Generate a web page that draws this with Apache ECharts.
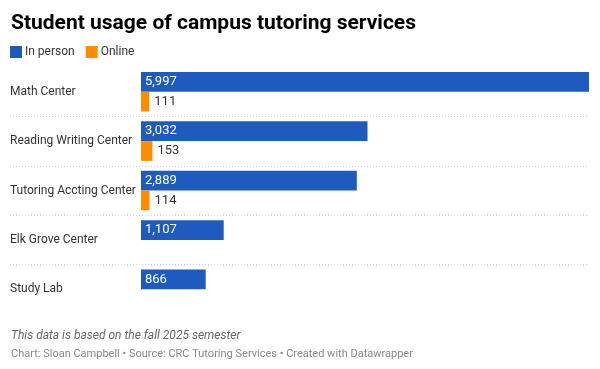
<!DOCTYPE html>
<html>
<head>
<meta charset="utf-8">
<style>html,body{margin:0;padding:0;background:#fff;}#c{width:600px;height:369px;}</style>
<script src="https://cdn.jsdelivr.net/npm/echarts@6/dist/echarts.min.js"></script>
</head>
<body>
<div id="c"></div>
<script>
var categories = ['Math Center', 'Reading Writing Center', 'Tutoring Accting Center', 'Elk Grove Center', 'Study Lab'];
var inPerson = [5997, 3032, 2889, 1107, 866];
var online = [111, 153, 114, null, null];
var seriesNames = ['In person', 'Online'];

var chart = echarts.init(document.getElementById('c'));
var F = 'Roboto, "Noto Sans", sans-serif';
chart.setOption({
  animation: false,
  textStyle: { fontFamily: F },
  title: [
    { text: 'Student usage of campus tutoring services', left: 6, top: 8,
      textStyle: { fontFamily: F, fontSize: 21, fontWeight: 'bold', color: '#000' } },
    { text: 'This data is based on the fall 2025 semester', left: 6, top: 325,
      textStyle: { fontFamily: F, fontSize: 12, fontStyle: 'italic', fontWeight: 'normal', color: '#666' } },
    { text: 'Chart: Sloan Campbell • Source: CRC Tutoring Services • Created with Datawrapper', left: 6, top: 344,
      textStyle: { fontFamily: F, fontSize: 11, fontWeight: 'normal', color: '#888' } }
  ],
  legend: {
    left: 10, top: 46, itemWidth: 12, itemHeight: 12, itemGap: 11, icon: 'rect',
    padding: 0,
    textStyle: { fontFamily: F, fontSize: 12, color: '#333', padding: [0, 0, 0, -2] },
    data: seriesNames
  },
  grid: [
    { left: 141, right: 11, top: 67, bottom: 55 },
    { left: 10, right: 11, top: 67, bottom: 55 }
  ],
  xAxis: [
    { gridIndex: 0, type: 'value', min: 0, max: 5997, show: false },
    { gridIndex: 1, type: 'value', min: 0, max: 1, show: false }
  ],
  yAxis: [
    { gridIndex: 0, type: 'category', data: categories, inverse: true,
      axisLine: { show: false }, axisTick: { show: false }, splitLine: { show: false },
      axisLabel: { align: 'left', margin: 131, fontFamily: F, fontSize: 12, color: '#333' } },
    { gridIndex: 1, type: 'value', min: 0, max: 5, interval: 1, inverse: true,
      axisLine: { show: false }, axisTick: { show: false }, axisLabel: { show: false },
      splitLine: { show: true, showMinLine: false, showMaxLine: false,
        lineStyle: { type: [1, 2], color: '#cfcfcf', width: 1 } } }
  ],
  series: [
    { name: seriesNames[0], type: 'bar', xAxisIndex: 0, yAxisIndex: 0, data: inPerson,
      barGap: 0, barCategoryGap: '20%',
      itemStyle: { color: '#1f5bbf' },
      label: { show: true, position: 'insideLeft', distance: 4, color: '#fff', fontFamily: F, fontSize: 13,
        formatter: function (p) { return p.value.toLocaleString('en-US'); } } },
    { name: seriesNames[1], type: 'bar', xAxisIndex: 0, yAxisIndex: 0, data: online,
      barGap: 0, barCategoryGap: '20%',
      itemStyle: { color: '#ff8c00' },
      label: { show: true, position: 'right', distance: 5, color: '#333', fontFamily: F, fontSize: 13,
        formatter: function (p) { return p.value.toLocaleString('en-US'); } } }
  ]
});
</script>
</body>
</html>
